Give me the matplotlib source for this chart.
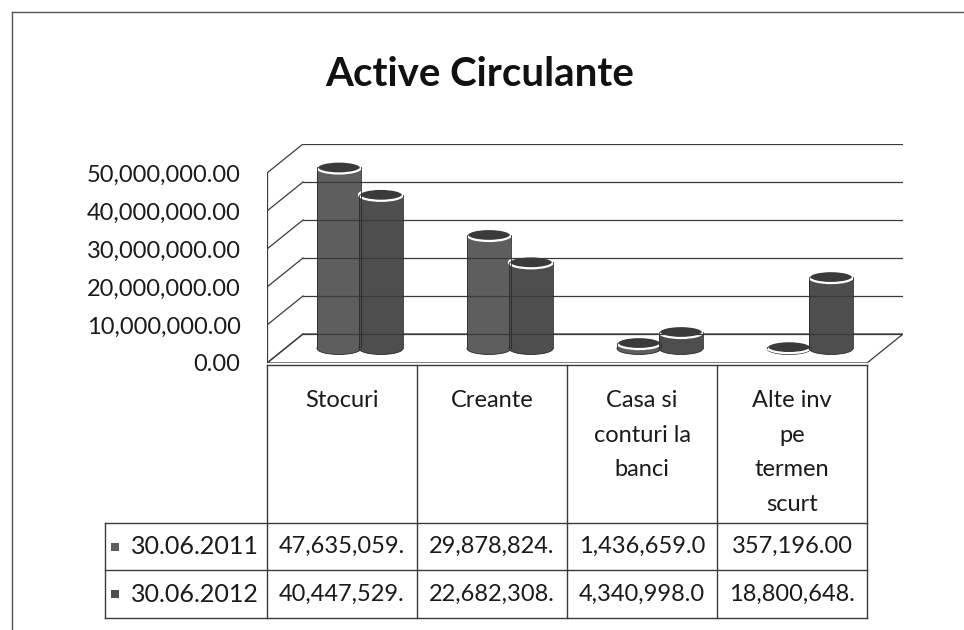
import numpy as np
import matplotlib
matplotlib.use('Agg')
import matplotlib.pyplot as plt
from matplotlib.patches import Ellipse, Polygon, Rectangle

plt.rcParams['font.family'] = ['Lato', 'DejaVu Sans']

# data
categories = ['Stocuri', 'Creante', 'Casa si\nconturi la\nbanci', 'Alte inv\npe\ntermen\nscurt']
series_names = ['30.06.2011', '30.06.2012']
values_2011 = [47635059, 29878824, 1436659, 357196]
values_2012 = [40447529, 22682308, 4340998, 18800648]
y_ticks = [0, 10000000, 20000000, 30000000, 40000000, 50000000]
series_colors = ['#5e5e5e', '#4e4e4e']

# layout in pixels (image coords, y down)
W, H = 964, 630
X0, CW = 267, 150          # front-left corner of the floor, width per category
Y0, YSPAN = 363, 190       # front 0 level, pixels per 50M
DX, DY = 36, 29            # depth offset of the back wall
VMAX = 50000000

fig = plt.figure(figsize=(W / 100, H / 100), dpi=100)

# pixel-space overlay for frame and table
ov = fig.add_axes([0, 0, 1, 1], zorder=0)
ov.set_xlim(0, W)
ov.set_ylim(H, 0)
ov.axis('off')

# 3d-ish chart axes, data space = front plane
n = len(categories)
ddx = DX / CW
ddy = DY / YSPAN * VMAX
ax = fig.add_axes([X0 / W, 1 - Y0 / H, (n * CW + DX) / W, (YSPAN + DY) / H], zorder=1)
ax.set_xlim(0, n + ddx)
ax.set_ylim(0, VMAX + ddy)
ax.patch.set_alpha(0)
for s in ax.spines.values():
    s.set_visible(False)
ax.set_xticks([])

line_kw = dict(color='#3a3a3a', lw=0.9)

# back wall gridlines and left wall diagonals
for v in y_ticks:
    ax.plot([ddx, n + ddx], [ddy + v, ddy + v], **line_kw)
    ax.plot([0, ddx], [v, ddy + v], **line_kw)
ax.plot([0, 0], [0, VMAX], **line_kw)
# floor
floor = Polygon([[0, 0], [n, 0], [n + ddx, ddy], [ddx, ddy]], closed=True,
                facecolor='white', edgecolor='#3a3a3a', lw=0.9)
ax.add_patch(floor)

ax.set_yticks(y_ticks)
ax.set_yticklabels([f'{v:,.2f}' for v in y_ticks], fontsize=17, color='#1a1a1a')
ax.tick_params(axis='y', length=0, pad=19)

# cylinders at mid depth
bw = 44 / CW
eh = 12 / YSPAN * VMAX
offs = [-0.14, 0.14]
for vals, off, col in zip([values_2011, values_2012], offs, series_colors):
    for i, v in enumerate(vals):
        cx = i + 0.5 + off + ddx / 2
        base = ddy / 2
        ax.add_patch(Ellipse((cx, base), bw, eh, facecolor=col, edgecolor='#2a2a2a', lw=0.6))
        ax.add_patch(Rectangle((cx - bw / 2, base), bw, v, facecolor=col, edgecolor='none'))
        ax.plot([cx - bw / 2, cx - bw / 2], [base, base + v], color='#2a2a2a', lw=0.6)
        ax.plot([cx + bw / 2, cx + bw / 2], [base, base + v], color='#2a2a2a', lw=0.6)
        ax.add_patch(Ellipse((cx, base + v), bw, eh, facecolor='#3a3a3a', edgecolor='white', lw=1.6))

# title
fig.text(480 / W, 1 - 86 / H, 'Active Circulante', ha='center', va='baseline',
         fontsize=29, fontweight='bold', color='#111111')

# outer frame (right/bottom are outside the picture)
ov.plot([12, 12], [12, H], color='#555555', lw=1)
ov.plot([12, W], [12, 12], color='#555555', lw=1)

# data table
tkw = dict(color='#3a3a3a', lw=1)
top, r1, r2, bot = 365, 523, 570, 618
left_hdr = 105
xr = X0 + n * CW
for i in range(n + 1):
    ov.plot([X0 + i * CW] * 2, [top, bot], **tkw)
ov.plot([X0, xr], [top, top], **tkw)
for yy in (r1, r2, bot):
    ov.plot([left_hdr, xr], [yy, yy], **tkw)
ov.plot([left_hdr, left_hdr], [r1, bot], **tkw)

for i, c in enumerate(categories):
    ov.text(X0 + (i + 0.5) * CW, 390, c, ha='center', va='top', fontsize=17,
            linespacing=1.8, color='#1a1a1a')

for j, (name, vals, col) in enumerate(zip(series_names, [values_2011, values_2012], series_colors)):
    yc = (r1 + r2) / 2 if j == 0 else (r2 + bot) / 2
    ov.add_patch(Rectangle((111, yc - 4), 8, 8, facecolor=col, edgecolor='none'))
    ov.text(left_hdr + 26, yc, name, ha='left', va='center', fontsize=18, color='#1a1a1a')
    for i, v in enumerate(vals):
        ov.text(X0 + (i + 0.5) * CW, yc, f'{v:,.2f}'[:11], ha='center', va='center',
                fontsize=17, color='#1a1a1a')

fig.savefig('out.png', dpi=100, facecolor='white')
